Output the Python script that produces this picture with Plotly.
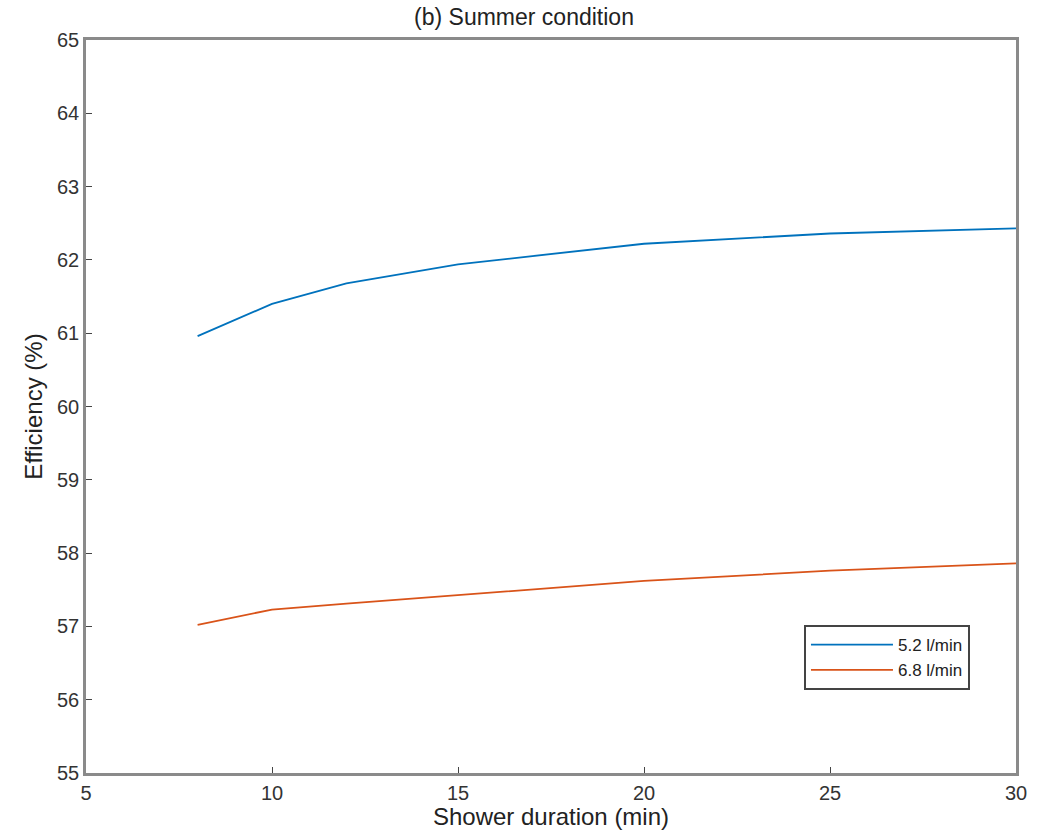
import plotly.graph_objects as go

duration = [8, 10, 12, 15, 20, 25, 30]
eff_52 = [60.96, 61.40, 61.68, 61.94, 62.22, 62.36, 62.43]
eff_68 = [57.02, 57.23, 57.31, 57.43, 57.62, 57.76, 57.86]

FONT = "Liberation Sans, Arial, Helvetica"

fig = go.Figure()
fig.add_trace(go.Scatter(x=duration, y=eff_52, mode="lines", name="5.2 l/min",
                         line=dict(color="#0072BD", width=1.8)))
fig.add_trace(go.Scatter(x=duration, y=eff_68, mode="lines", name="6.8 l/min",
                         line=dict(color="#D95319", width=1.8)))

axis_common = dict(showline=True, linecolor="#8a8a8a", linewidth=2.5, mirror=True,
                   ticks="inside", ticklen=6, tickcolor="#444444", tickwidth=1.2,
                   showgrid=False, zeroline=False, automargin=False,
                   tickfont=dict(family=FONT, size=20, color="#333333"))

fig.update_layout(
    width=1048, height=830,
    paper_bgcolor="white", plot_bgcolor="white",
    margin=dict(l=86, r=32, t=40, b=57),
    title=dict(text="(b) Summer condition", x=0.5, xanchor="center", y=0.979, yanchor="middle",
               font=dict(family=FONT, size=23, color="#222222"), automargin=False),
    xaxis=dict(range=[5, 30], tickvals=[5, 10, 15, 20, 25, 30],
               title=dict(text="Shower duration (min)", standoff=2,
                          font=dict(family=FONT, size=24, color="#222222")),
               **axis_common),
    yaxis=dict(range=[55, 65], dtick=1,
               title=dict(text="Efficiency (%)", standoff=8,
                          font=dict(family=FONT, size=24, color="#222222")),
               **axis_common),
    legend=dict(x=0.9505, xanchor="right", y=0.113, yanchor="bottom",
                bordercolor="#444444", borderwidth=2, bgcolor="white",
                font=dict(family=FONT, size=17, color="#222222"),
                tracegroupgap=0, itemwidth=82),
    showlegend=True,
)

fig.write_html("out.html")
